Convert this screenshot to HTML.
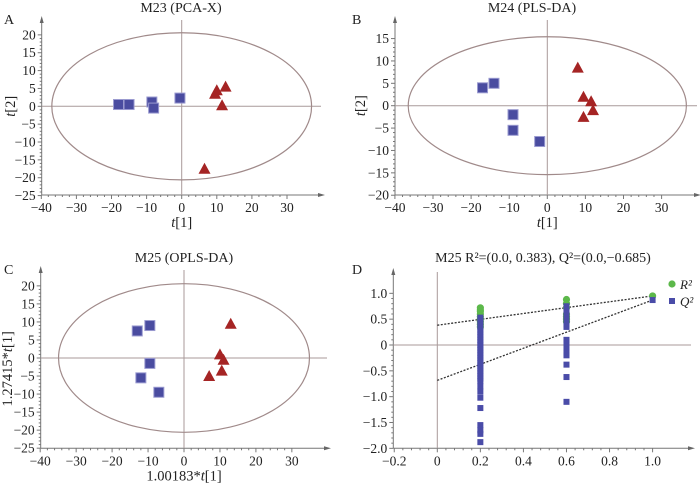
<!DOCTYPE html>
<html><head><meta charset="utf-8"><style>
body{margin:0;background:#fff}
svg text{font-family:"Liberation Serif",serif;fill:#222}
</style></head><body>
<svg id="s" width="700" height="485" xmlns="http://www.w3.org/2000/svg"></svg>
<script>
// Panel A data
const aSqX=[-18,-15,-8.5,-8,-0.5];
const aSqY=[0.5,0.5,1.2,-0.5,2.3];
const aTrX=[10,9.5,12.5,11.5,6.5];
const aTrY=[4.5,3.5,5.5,0.3,-17.5];
// Panel B data
const bSqX=[-17,-14,-9,-9,-2];
const bSqY=[4,5,-2,-5.5,-8];
const bTrX=[8,9.5,11.5,12,9.5];
const bTrY=[8.5,2,1,-1,-2.5];
// Panel C data
const cSqX=[-13,-9.5,-9.5,-12,-7];
const cSqY=[7.5,9,-1.5,-5.5,-9.5];
const cTrX=[13,10,11,10.5,7];
const cTrY=[9.5,1,-0.5,-3.5,-5];
// Panel D data (permutation groups at x = 0.2, 0.6, 1.0)
const dGroupX=[0.2,0.6,1.0];
const dR2Y02=[0.72,0.68,0.65,0.6,0.55,0.5,0.45,0.4,0.35];
const dR2Y06=[0.88,0.8,0.72,0.6,0.55,0.5,0.45];
const dR2Y10=[0.95];
const dQ2Y02=[0.53,0.5,0.45,0.4,0.35,0.3,0.25,0.2,0.15,0.1,0.05,0,-0.05,-0.1,-0.15,-0.2,-0.25,-0.3,-0.35,-0.4,-0.45,-0.5,-0.55,-0.6,-0.65,-0.7,-0.8,-0.9,-1.02,-1.22,-1.55,-1.65,-1.72,-1.88];
const dQ2Y06=[0.75,0.7,0.65,0.6,0.55,0.5,0.45,0.4,0.35,0.1,0.05,-0.05,-0.15,-0.2,-0.38,-0.62,-1.1];
const dQ2Y10=[0.87];
const dR2Line=[0.383,0.95];
const dQ2Line=[-0.685,0.87];
const scatterXTicks=[-40,-30,-20,-10,0,10,20,30];
const aYTicks=[20,15,10,5,0,-5,-10,-15,-20,-25];
const bYTicks=[15,10,5,0,-5,-10,-15,-20];
const dXTicks=[-0.2,0,0.2,0.4,0.6,0.8,1.0];
const dYTicks=[1.0,0.5,0,-0.5,-1.0,-1.5,-2.0];

const NS="http://www.w3.org/2000/svg";
const S=document.getElementById('s');
function el(t,a,txt){const e=document.createElementNS(NS,t);for(const k in a)e.setAttribute(k,a[k]);if(txt!==undefined)e.textContent=txt;S.appendChild(e);return e;}
function fmt(v){return v<0?'\u2212'+String(-v):String(v);}
function fmtD(v){if(v===0)return '0';let s=Math.abs(v).toFixed(1);return (v<0?'\u2212':'')+s;}

function panel(p){
  const sx=v=>p.x0+(v-p.xa)*p.kx, sy=v=>p.y0-(v-p.ya)*p.ky;
  let e=el('line',{x1:p.ax,y1:p.bottom,x2:p.right,y2:p.bottom,stroke:'#777','stroke-width':1});
  
  e=el('line',{x1:p.ax,y1:p.bottom,x2:p.ax,y2:p.top,stroke:'#777','stroke-width':1});
  
  el('polygon',{points:`${p.right+4},${p.bottom} ${p.right-3},${p.bottom-2} ${p.right-3},${p.bottom+2}`,fill:'#666'});
  el('polygon',{points:`${p.ax},${p.top-4} ${p.ax-2},${p.top+3} ${p.ax+2},${p.top+3}`,fill:'#666'});
  p.xt.forEach((v,i)=>{const x=sx(v);el('line',{x1:x,y1:p.bottom,x2:x,y2:p.bottom+4,stroke:'#777'});
    if(i<p.xt.length-1){const st=(p.xt[1]-p.xt[0])/5;for(let j=1;j<5;j++){const xm=sx(v+st*j);el('line',{x1:xm,y1:p.bottom,x2:xm,y2:p.bottom+2,stroke:'#777'});}}
    e=el('text',{x:x,y:p.bottom+17,'text-anchor':'middle','font-size':13.5},p.fx(v));});
  p.yt.forEach((v,i)=>{const y=sy(v);el('line',{x1:p.ax-4,y1:y,x2:p.ax,y2:y,stroke:'#777'});
    if(i<p.yt.length-1){const st=(p.yt[0]-p.yt[1])/5;for(let j=1;j<5;j++){const ym=sy(v-st*j);el('line',{x1:p.ax-2,y1:ym,x2:p.ax,y2:ym,stroke:'#777'});}}
    e=el('text',{x:p.ax-6,y:y+4.5,'text-anchor':'end','font-size':13.5},p.fy(v));});
  el('line',{x1:p.ax,y1:sy(0),x2:p.right,y2:sy(0),stroke:'#a89a9a'});
  el('line',{x1:sx(0),y1:p.bottom,x2:sx(0),y2:p.top,stroke:'#a89a9a'});
  e=el('text',{x:p.tx,y:p.ty,'text-anchor':'middle','font-size':14},p.title);
  e=el('text',{x:p.lx,y:p.ly,'font-size':14},p.letter);
  return {sx,sy};
}
function scatterPanel(p,sqX,sqY,trX,trY){
  const {sx,sy}=panel(p);
  let e=el('ellipse',{cx:sx(0),cy:sy(0),rx:p.erx*p.kx,ry:p.ery*p.ky,fill:'none',stroke:'#a08a8a','stroke-width':1.2});
  
  sqX.forEach((v,i)=>{e=el('rect',{x:sx(v)-5,y:sy(sqY[i])-5,width:10,height:10,fill:'#4a4ca0',stroke:'#9a9ad0','stroke-width':1});
    });
  trX.forEach((v,i)=>{const x=sx(v),y=sy(trY[i]);e=el('polygon',{points:`${x},${y-6} ${x-6},${y+5} ${x+6},${y+5}`,fill:'#a52424'});
    });
  const xl=el('text',{x:sx(0),y:p.bottom+32,'text-anchor':'middle','font-size':14.5});
  
  xl.innerHTML=p.xlab;
  const yl=el('text',{x:0,y:0,'text-anchor':'middle','font-size':14.5,transform:`translate(${p.ylx},${sy(p.ylc)}) rotate(-90)`});
  
  yl.innerHTML=p.ylab;
}
const T='<tspan font-style="italic">t</tspan>';
scatterPanel({id:'panel-a',x0:181.7,xa:0,kx:3.51,y0:106.3,ya:0,ky:3.571,ax:41.7,bottom:195,right:321,top:20,
  xt:scatterXTicks,yt:aYTicks,fx:fmt,fy:fmt,title:'M23 (PCA-X)',tx:181,ty:12,letter:'A',lx:4,ly:24,erx:37,ery:20.6,
  xlab:T+'[1]',ylab:T+'[2]',ylx:15,ylc:0},aSqX,aSqY,aTrX,aTrY);
scatterPanel({id:'panel-b',x0:547.3,xa:0,kx:3.81,y0:105.7,ya:0,ky:4.476,ax:395,bottom:195,right:697,top:20,
  xt:scatterXTicks,yt:bYTicks,fx:fmt,fy:fmt,title:'M24 (PLS-DA)',tx:532,ty:12,letter:'B',lx:352,ly:24,erx:36.5,ery:15.4,
  xlab:T+'[1]',ylab:T+'[2]',ylx:365,ylc:0},bSqX,bSqY,bTrX,bTrY);
scatterPanel({id:'panel-c',x0:184,xa:0,kx:3.595,y0:358,ya:0,ky:3.607,ax:40.7,bottom:448.3,right:327,top:270,
  xt:scatterXTicks,yt:aYTicks,fx:fmt,fy:fmt,title:'M25 (OPLS-DA)',tx:184,ty:262,letter:'C',lx:4,ly:274,erx:34.9,ery:20.6,
  xlab:'1.00183*'+T+'[1]',ylab:'1.27415*'+T+'[1]',ylx:12,ylc:-3},cSqX,cSqY,cTrX,cTrY);

(function(){
  const p={id:'panel-d',x0:437.3,xa:0,kx:215.3,y0:345,ya:0,ky:51.67,ax:393.3,bottom:448.3,right:691,top:272,
    xt:dXTicks,yt:dYTicks,fx:fmtD,fy:fmtD,title:'M25 R\u00b2=(0.0, 0.383), Q\u00b2=(0.0,\u22120.685)',tx:543,ty:262,letter:'D',lx:352,ly:274};
  const {sx,sy}=panel(p);
  let e=el('line',{x1:sx(0),y1:sy(dR2Line[0]),x2:sx(1),y2:sy(dR2Line[1]),stroke:'#333','stroke-width':1.3,'stroke-dasharray':'2,1.5'});
  
  e=el('line',{x1:sx(0),y1:sy(dQ2Line[0]),x2:sx(1),y2:sy(dQ2Line[1]),stroke:'#333','stroke-width':1.3,'stroke-dasharray':'2,1.5'});
  
  const r2Groups=[dR2Y02,dR2Y06,dR2Y10], q2Groups=[dQ2Y02,dQ2Y06,dQ2Y10];
  r2Groups.forEach((g,gi)=>g.forEach(v=>{e=el('circle',{cx:sx(dGroupX[gi]),cy:sy(v),r:3.6,fill:'#5cb84a'});
    }));
  q2Groups.forEach((g,gi)=>g.forEach(v=>{e=el('rect',{x:sx(dGroupX[gi])-3,y:sy(v)-3,width:6,height:6,fill:'#4a4ca8'});
    }));
  e=el('circle',{cx:672,cy:284,r:3.6,fill:'#5cb84a'});
  e=el('text',{x:680,y:289,'font-size':13,'font-style':'italic'},'R²');
  e=el('rect',{x:669,y:298,width:6,height:6,fill:'#4a4ca8'});
  e=el('text',{x:680,y:306,'font-size':13,'font-style':'italic'},'Q²');
})();
</script>
</body></html>
